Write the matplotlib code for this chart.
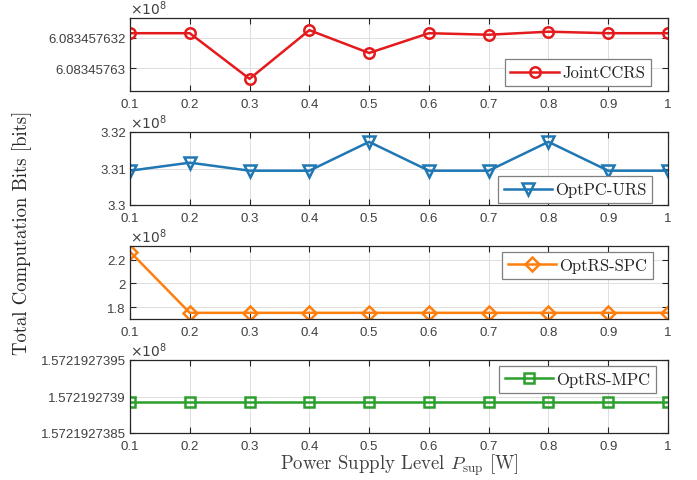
import numpy as np
import matplotlib
matplotlib.use('Agg')
import matplotlib.pyplot as plt

plt.rcParams['font.family'] = ['Liberation Sans', 'DejaVu Sans']
plt.rcParams['mathtext.fontset'] = 'cm'

# power supply levels [W]
p_sup = [0.1, 0.2, 0.3, 0.4, 0.5, 0.6, 0.7, 0.8, 0.9, 1.0]

# total computation bits, in units of 1e8 bits
joint_ccrs = [6.0834576323, 6.0834576323, 6.0834576293, 6.0834576325, 6.0834576310,
              6.0834576323, 6.0834576322, 6.0834576324, 6.0834576323, 6.0834576323]
optpc_urs = [3.3094, 3.3116, 3.3094, 3.3094, 3.3173, 3.3094, 3.3094, 3.3173, 3.3094, 3.3094]
optrs_spc = [2.267, 1.752, 1.752, 1.752, 1.752, 1.752, 1.752, 1.752, 1.752, 1.752]
optrs_mpc = [1.57219273893] * 10

x_ticks = [0.1, 0.2, 0.3, 0.4, 0.5, 0.6, 0.7, 0.8, 0.9, 1.0]
x_labels = ['0.1', '0.2', '0.3', '0.4', '0.5', '0.6', '0.7', '0.8', '0.9', '1']

panels = [
    dict(y=joint_ccrs, name='JointCCRS', color='#e41a1c', marker='o', ms=7.5,
         ylim=(6.0834576285, 6.0834576333),
         yticks=[6.083457630, 6.083457632], ylabels=['6.08345763', '6.083457632'],
         loc='lower right', anchor=(0.968, 0.064)),
    dict(y=optpc_urs, name='OptPC-URS', color='#1f77b4', marker='v', ms=8,
         ylim=(3.30, 3.32),
         yticks=[3.30, 3.31, 3.32], ylabels=['3.3', '3.31', '3.32'],
         loc='lower right', anchor=(0.971, 0.023)),
    dict(y=optrs_spc, name='OptRS-SPC', color='#ff7f0e', marker='D', ms=7,
         ylim=(1.70, 2.315),
         yticks=[1.8, 2.0, 2.2], ylabels=['1.8', '2', '2.2'],
         loc='upper right', anchor=(0.9727, 0.922)),
    dict(y=optrs_mpc, name='OptRS-MPC', color='#2ca02c', marker='s', ms=6.5,
         ylim=(1.5721927385, 1.5721927395),
         yticks=[1.5721927385, 1.5721927390, 1.5721927395],
         ylabels=['1.5721927385', '1.572192739', '1.5721927395'],
         loc='upper right', anchor=(0.978, 0.922)),
]

fig = plt.figure(figsize=(6.97, 4.81), dpi=100)
fig.set_facecolor('white')

left, width, height = 130 / 697, 538 / 697, 73 / 481
bottoms = [1 - 92 / 481, 1 - 206 / 481, 1 - 320 / 481, 1 - 434 / 481]
axc = '#262626'
txc = '#404040'

for p, b in zip(panels, bottoms):
    ax = fig.add_axes([left, b, width, height])
    ax.plot(p_sup, p['y'], color=p['color'], lw=1.8, marker=p['marker'],
            ms=p['ms'], mfc='none', mec=p['color'], mew=1.8, label=p['name'])
    ax.set_xlim(0.1, 1.0)
    ax.set_ylim(*p['ylim'])
    ax.set_xticks(x_ticks)
    ax.set_xticklabels(x_labels)
    ax.set_yticks(p['yticks'])
    ax.set_yticklabels(p['ylabels'])
    ax.tick_params(direction='in', length=4.5, width=0.8, colors=axc,
                   labelcolor=txc, labelsize=9.5, top=True, right=True, pad=3)
    ax.tick_params(axis='x', pad=5)
    ax.grid(True, color='#dedede', lw=0.7)
    ax.set_axisbelow(True)
    for s in ax.spines.values():
        s.set_color(axc)
        s.set_linewidth(0.9)
    ax.text(0.0, 1.01, r'$\times 10^{8}$', transform=ax.transAxes, ha='left',
            va='bottom', fontsize=10, color=txc, family='DejaVu Sans',
            math_fontfamily='dejavusans')
    leg = ax.legend(loc=p['loc'], bbox_to_anchor=p['anchor'], borderaxespad=0,
                    fancybox=False, framealpha=1, edgecolor='#7f7f7f',
                    handlelength=2.9, prop={'family': 'cmr10', 'size': 12},
                    borderpad=0.35, handletextpad=0.2)
    leg.get_frame().set_linewidth(0.9)
    for t in leg.get_texts():
        t.set_color(axc)

fig.text(22 / 697, 1 - 233 / 481, 'Total Computation Bits [bits]', rotation=90,
         ha='center', va='center', fontsize=13.5, family='cmr10', color=axc)
fig.text(399 / 697, 1 - 465 / 481, r'Power Supply Level $P_{\rm sup}$ [W]',
         ha='center', va='center', fontsize=13.5, family='cmr10', color=txc)

fig.savefig('out.png', dpi=100)
